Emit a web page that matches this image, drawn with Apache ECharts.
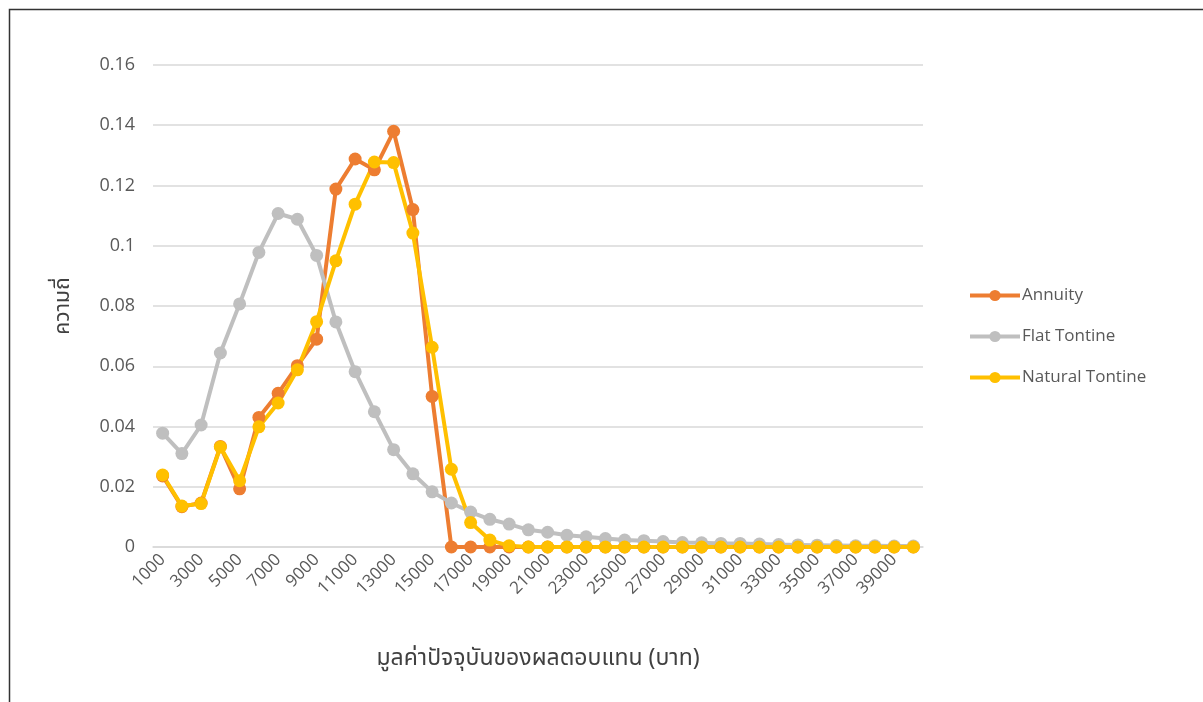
<!DOCTYPE html>
<html>
<head>
<meta charset="utf-8">
<script src="https://cdn.jsdelivr.net/npm/echarts@6/dist/echarts.min.js"></script>
<style>
html,body{margin:0;padding:0;background:#fff;}
#c{width:1203px;height:702px;}
</style>
</head>
<body>
<div id="c"></div>
<script>
const categories = [];
for (let v = 1000; v <= 40000; v += 1000) categories.push(String(v));

const annuity = [0.0236, 0.0134, 0.0146, 0.0334, 0.0193, 0.0430, 0.0510, 0.0602, 0.0690, 0.1188,
  0.1288, 0.1252, 0.1380, 0.1120, 0.0500, 0, 0, 0, 0, 0,
  0, 0, 0, 0, 0, 0, 0, 0, 0, 0,
  0, 0, 0, 0, 0, 0, 0, 0, 0, 0];
const flatTontine = [0.0378, 0.0310, 0.0405, 0.0644, 0.0807, 0.0978, 0.1107, 0.1088, 0.0968, 0.0747,
  0.0582, 0.0449, 0.0323, 0.0243, 0.0183, 0.0146, 0.0116, 0.0092, 0.0076, 0.0057,
  0.0049, 0.0039, 0.0034, 0.0028, 0.0023, 0.0021, 0.0018, 0.0015, 0.0014, 0.0012,
  0.0012, 0.0010, 0.0008, 0.0007, 0.0006, 0.0005, 0.0004, 0.0004, 0.0003, 0.0003];
const naturalTontine = [0.0239, 0.0136, 0.0144, 0.0332, 0.0220, 0.0399, 0.0478, 0.0588, 0.0748, 0.0950,
  0.1138, 0.1278, 0.1276, 0.1042, 0.0663, 0.0258, 0.0081, 0.0023, 0.0004, 0,
  0, 0, 0, 0, 0, 0, 0, 0, 0, 0,
  0, 0, 0, 0, 0, 0, 0, 0, 0, 0];
const seriesNames = ['Annuity', 'Flat Tontine', 'Natural Tontine'];
const colors = ['#ED7D31', '#BFBFBF', '#FFC000'];
const xTitle = 'มูลค่าปัจจุบันของผลตอบแทน (บาท)';
const yTitle = 'ความถี่';

const font = '"Open Sans", "Noto Sans", "DejaVu Sans", sans-serif';
const thaiFont = '"Noto Sans Thai", "Noto Sans", "DejaVu Sans", Tahoma, sans-serif';
const chart = echarts.init(document.getElementById('c'), null, {renderer: 'canvas'});
const dataSets = [annuity, flatTontine, naturalTontine];

chart.setOption({
  animation: false,
  backgroundColor: '#fff',
  color: colors,
  graphic: [{
    type: 'rect', silent: true, z: 100,
    shape: {x: 9.5, y: 9.5, width: 1400, height: 900},
    style: {fill: 'none', stroke: '#333', lineWidth: 1.5}
  }],
  grid: {left: 153, right: 280, top: 65, height: 482, containLabel: false},
  legend: {
    orient: 'vertical', left: 968, top: 287, padding: 0,
    itemWidth: 50, itemHeight: 14, itemGap: 24,
    lineStyle: {width: 4},
    textStyle: {fontFamily: font, fontSize: 17, color: '#595959', padding: [0, 0, 0, -3]},
    data: seriesNames
  },
  xAxis: {
    type: 'category', data: categories, boundaryGap: true,
    axisLine: {show: true, lineStyle: {color: '#D9D9D9', width: 1.5}},
    axisTick: {show: false},
    axisLabel: {interval: 1, rotate: 45, fontFamily: font, fontSize: 17, color: '#595959', margin: 10},
    name: xTitle, nameLocation: 'middle', nameGap: 102,
    nameTextStyle: {fontFamily: thaiFont, fontSize: 23, color: '#404040'}
  },
  yAxis: {
    type: 'value', min: 0, max: 0.16, interval: 0.02,
    axisLine: {show: false}, axisTick: {show: false},
    splitLine: {lineStyle: {color: '#D9D9D9', width: 1.5}},
    axisLabel: {fontFamily: font, fontSize: 18, color: '#595959', margin: 18,
      formatter: v => String(parseFloat(v.toFixed(2)))},
    name: yTitle, nameLocation: 'middle', nameGap: 78, nameRotate: 90,
    nameTextStyle: {fontFamily: thaiFont, fontSize: 21, color: '#404040'}
  },
  series: seriesNames.map((n, i) => ({
    name: n, type: 'line', data: dataSets[i],
    symbol: 'circle', symbolSize: 13, showAllSymbol: true,
    lineStyle: {width: 4, color: colors[i]},
    itemStyle: {color: colors[i]}
  }))
});
</script>
</body>
</html>
